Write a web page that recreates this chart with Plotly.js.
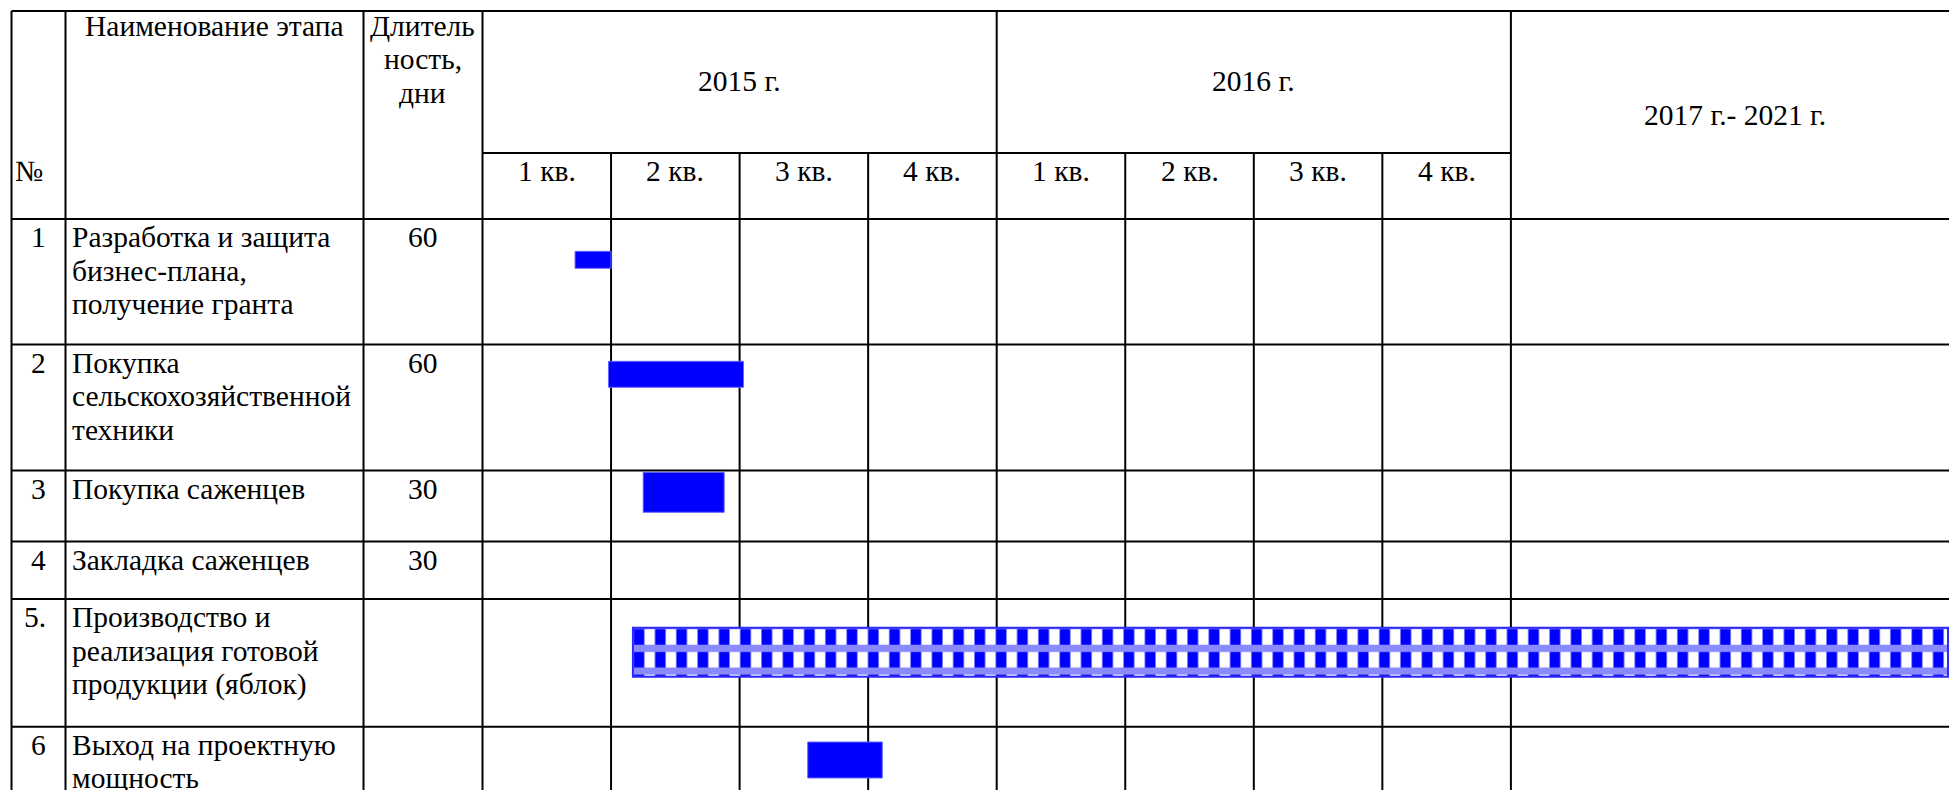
<!DOCTYPE html>
<html><head><meta charset="utf-8">
<script src="https://cdn.plot.ly/plotly-3.0.1.min.js"></script>
<style>html,body{margin:0;padding:0;background:#fff}#chart{width:1949px;height:790px}</style>
</head><body><div id="chart"></div>
<script>
// ---------------- data ----------------
const stageNo = ['1', '2', '3', '4', '5.', '6'];
const stageNames = [
  'Разработка и защита<br>бизнес-плана,<br>получение гранта',
  'Покупка<br>сельскохозяйственной<br>техники',
  'Покупка саженцев',
  'Закладка саженцев',
  'Производство и<br>реализация готовой<br>продукции (яблок)',
  'Выход на проектную<br>мощность'
];
const durationDays = ['60', '60', '30', '30', '', ''];
// start / end of every stage, in quarters counted from the beginning of 1 кв. 2015
const startQuarter = [0.72, 0.98, 1.25, null, 1.17, 2.53];
const endQuarter   = [1.00, 2.03, 1.88, null, 11.40, 3.11];
const yearLabels = ['2015 г.', '2016 г.', '2017 г.- 2021 г.'];
const quarterLabels = ['1 кв.', '2 кв.', '3 кв.', '4 кв.'];
const headNo = '№';
const headName = 'Наименование этапа';
const headDuration = 'Длитель<br>ность,<br>дни';

// ---------------- layout (table geometry & styles) ----------------
const W = 1949, H = 790;
const Q0_PX = 482.5, Q_PX = 128.55;        // pixel of quarter 0 and width of a quarter
const leftColPx = [11.5, 65.5, 363.5];     // table lines left of the time scale
const topPx = 11, quarterRowPx = 153;
const rowTopPx = [219, 344.5, 470.5, 541.5, 599, 726.7];
const lastColRightQ = (1960 - Q0_PX) / Q_PX;
const barOffset = [40.8, 29.8, 21.8, 0, 53.2, 33.3];
const barThick  = [17, 26, 40, 0, 49, 36];
const barPatterned = [false, false, false, false, true, false];
const FONT = 29.5, LINE = 33.5, FIRST_BASE = 28, BASE_SHIFT = 0.3375 * FONT;
const FAMILY = 'Liberation Serif, "Times New Roman", serif';
const LW = 2;

const shapes = [];
function vline(x, xref, y0, y1) {
  shapes.push({type: 'line', layer: 'below', xref: xref, yref: 'y', x0: x, x1: x, y0: y0, y1: y1,
    line: {color: '#000', width: LW}});
}
function hline(x0, x1, xref, y) {
  shapes.push({type: 'line', layer: 'below', xref: xref, yref: 'y', x0: x0, x1: x1, y0: y, y1: y,
    line: {color: '#000', width: LW}});
}
leftColPx.forEach(px => vline(px / W, 'paper', topPx, H));
for (let q = 0; q <= 8; q++) vline(q, 'x', q % 4 === 0 ? topPx : quarterRowPx, H);
hline(leftColPx[0] / W, 1, 'paper', topPx);
hline(0, 8, 'x', quarterRowPx);
rowTopPx.forEach(y => hline(leftColPx[0] / W, 1, 'paper', y));

const annotations = [];
function addText(text, x, xref, baseline, anchor) {
  text.split('<br>').forEach((line, i) => {
    annotations.push({text: line, x: x, xref: xref, y: baseline + i * LINE - BASE_SHIFT, yref: 'y',
      xanchor: anchor, yanchor: 'middle', showarrow: false, borderpad: 0,
      font: {family: FAMILY, size: FONT, color: '#000'}});
  });
}
// header
addText(headNo, 14 / W, 'paper', 181, 'left');
addText(headName, 214.5 / W, 'paper', 35.5, 'center');
addText(headDuration, 422.75 / W, 'paper', 35.5, 'center');
addText(yearLabels[0], 2, 'x', 90.5, 'center');
addText(yearLabels[1], 6, 'x', 90.5, 'center');
addText(yearLabels[2], (8 + lastColRightQ) / 2, 'x', 124.5, 'center');
for (let q = 0; q < 8; q++) addText(quarterLabels[q % 4], q + 0.5, 'x', 181, 'center');
// rows
stageNames.forEach((name, i) => {
  const b = rowTopPx[i] + FIRST_BASE;
  addText(stageNo[i], 46.5 / W, 'paper', b, 'right');
  addText(name, 70.5 / W, 'paper', b, 'left');
  if (durationDays[i]) addText(durationDays[i], 422.75 / W, 'paper', b, 'center');
});

// bars
function barSet(filter) {
  const idx = stageNames.map((_, i) => i).filter(i => startQuarter[i] !== null && filter(i));
  return {
    y: idx.map(i => rowTopPx[i] + barOffset[i]),
    base: idx.map(i => startQuarter[i]),
    x: idx.map(i => endQuarter[i] - startQuarter[i]),
    width: idx.map(i => barThick[i])
  };
}
const solid = barSet(i => !barPatterned[i]);
const patt = barSet(i => barPatterned[i]);
const traces = [
  Object.assign({type: 'bar', orientation: 'h', hoverinfo: 'skip',
    marker: {color: '#0000ff', line: {color: '#6464ff', width: 1}}}, solid),
  Object.assign({type: 'bar', orientation: 'h', hoverinfo: 'skip',
    marker: {color: '#0000ff', line: {width: 0},
      pattern: {shape: '|', fgcolor: '#ffffff', bgcolor: '#0000ff', size: 21.3, solidity: 0.5}}}, patt),
  Object.assign({type: 'bar', orientation: 'h', hoverinfo: 'skip',
    marker: {color: 'rgba(0,0,0,0)', line: {color: '#2a2aff', width: 2},
      pattern: {shape: '-', fgcolor: '#8a8aff', bgcolor: 'rgba(0,0,0,0)', size: 22.75, solidity: 0.32}}}, patt)
];

const layout = {
  width: W, height: H, margin: {l: 0, r: 0, t: 0, b: 0, pad: 0},
  paper_bgcolor: '#fff', plot_bgcolor: '#fff', showlegend: false, barmode: 'overlay',
  xaxis: {range: [-Q0_PX / Q_PX, (W - Q0_PX) / Q_PX], domain: [0, 1], visible: false, fixedrange: true},
  yaxis: {range: [H, 0], domain: [0, 1], visible: false, fixedrange: true},
  shapes: shapes, annotations: annotations, hovermode: false
};
Plotly.newPlot('chart', traces, layout, {displayModeBar: false, staticPlot: true});
</script></body></html>
